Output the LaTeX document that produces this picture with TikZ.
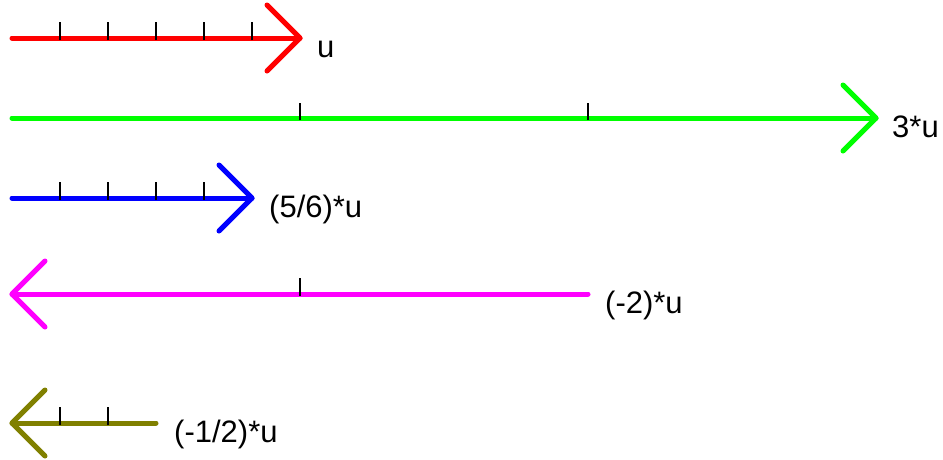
\documentclass[tikz,border=0pt]{standalone}
\usepackage{fontspec}
\setmainfont{Liberation Sans}
\definecolor{vred}{RGB}{255,0,0}
\definecolor{vgreen}{RGB}{0,255,0}
\definecolor{vblue}{RGB}{0,0,255}
\definecolor{vmag}{RGB}{255,0,255}
\definecolor{volive}{RGB}{128,128,0}
\begin{document}
\begin{tikzpicture}[x=1pt,y=-1pt,
  vec/.style={line width=5pt, line cap=round, line join=round},
  tickmark/.style={line width=2pt, black},
  lab/.style={anchor=base west, inner sep=0pt, font=\fontsize{31}{31}\selectfont}]
\useasboundingbox (0,0) rectangle (943,459);
% red: u
\coordinate (r0) at (12,38);
\coordinate (r1) at (300,38);
\draw[vec,vred] (r0) -- (r1);
\draw[vec,vred] (r1) ++(-33,-33) -- (r1) -- ++(-33,33);
\foreach \k in {1,...,5} \draw[tickmark] (12+48*\k,40) -- ++(0,-18);
\node[lab] (lu) at (317,57) {u};
% green: 3*u
\coordinate (g0) at (12,118);
\coordinate (g1) at (876,118);
\draw[vec,vgreen] (g0) -- (g1);
\draw[vec,vgreen] (g1) ++(-33,-33) -- (g1) -- ++(-33,33);
\foreach \k in {1,2} \draw[tickmark] (12+288*\k,120) -- ++(0,-17);
\node[lab] (l3u) at (892,137) {3*u};
% blue: (5/6)*u
\coordinate (b0) at (12,198);
\coordinate (b1) at (252,198);
\draw[vec,vblue] (b0) -- (b1);
\draw[vec,vblue] (b1) ++(-33,-33) -- (b1) -- ++(-33,33);
\foreach \k in {1,...,4} \draw[tickmark] (12+48*\k,200) -- ++(0,-18);
\node[lab] (l56u) at (269,217) {(5/6)*u};
% magenta: (-2)*u
\coordinate (m0) at (588,294);
\coordinate (m1) at (12,294);
\draw[vec,vmag] (m0) -- (m1);
\draw[vec,vmag] (m1) ++(33,-33) -- (m1) -- ++(33,33);
\draw[tickmark] (300,296) -- ++(0,-18);
\node[lab] (lm2u) at (605,313) {(-2)*u};
% olive: (-1/2)*u
\coordinate (o0) at (156,423);
\coordinate (o1) at (12,423);
\draw[vec,volive] (o0) -- (o1);
\draw[vec,volive] (o1) ++(33,-33) -- (o1) -- ++(33,33);
\foreach \k in {1,2} \draw[tickmark] (12+48*\k,425) -- ++(0,-18);
\node[lab] (lm12u) at (174,442) {(-1/2)*u};
\end{tikzpicture}
\end{document}
